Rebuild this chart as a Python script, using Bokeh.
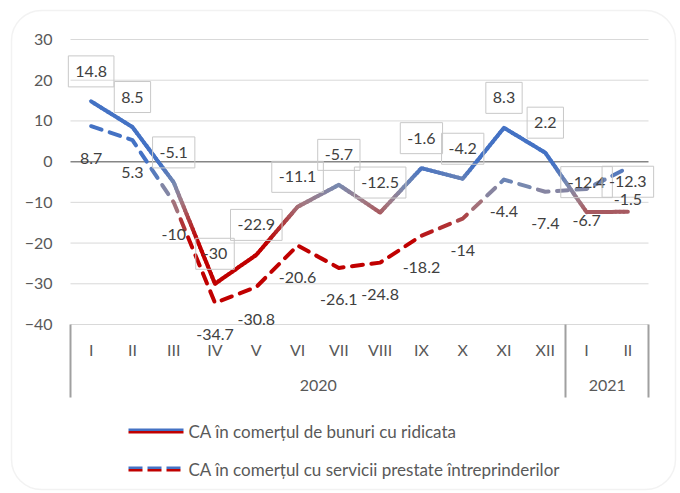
import numpy as np
from bokeh.plotting import figure
from bokeh.models import (Range1d, FixedTicker, Label, ColumnDataSource, BoxAnnotation, LinearAxis)
from bokeh.core.properties import value
from bokeh.embed import file_html
from bokeh.resources import INLINE

# ---------------- data ----------------
months = ["I", "II", "III", "IV", "V", "VI", "VII", "VIII", "IX", "X", "XI", "XII", "I", "II"]
years = ["2020", "2021"]
year_counts = [12, 2]
goods = [14.8, 8.5, -5.1, -30, -22.9, -11.1, -5.7, -12.5, -1.6, -4.2, 8.3, 2.2, -12.4, -12.3]
services = [8.7, 5.3, -10, -34.7, -30.8, -20.6, -26.1, -24.8, -18.2, -14, -4.4, -7.4, -6.7, -1.5]
series_names = ["CA în comerțul de bunuri cu ridicata",
                "CA în comerțul cu servicii prestate întreprinderilor"]
y_ticks = [-40, -30, -20, -10, 0, 10, 20, 30]

# ---------------- layout (pixels) ----------------
FONT = "Lato"
W, H = 680, 493
PL, PR, PT, PB = 70, 648, 39, 324          # plot area in canvas pixels
x_lo, x_hi = 0.5, len(months) + 0.5
y_lo, y_hi = y_ticks[0], y_ticks[-1]
kx = (x_hi - x_lo) / (PR - PL)             # data units per pixel
ky = (y_hi - y_lo) / (PB - PT)
pxx, pxy = 1 / kx, 1 / ky


def dx(px):   # canvas px -> data x
    return x_lo + (px - PL) * kx


def dy(py):   # canvas px -> data y
    return y_hi - (py - PT) * ky


BLUE = "#4472C4"
RED = "#C00000"
grad_y = [-20, -14, -10, -6, -1]
grad_c = [(192, 0, 0), (172, 68, 72), (162, 122, 132), (122, 138, 175), (68, 114, 196)]


def grad(v):
    r = np.interp(v, grad_y, [c[0] for c in grad_c])
    g = np.interp(v, grad_y, [c[1] for c in grad_c])
    b = np.interp(v, grad_y, [c[2] for c in grad_c])
    return "#%02x%02x%02x" % (int(r), int(g), int(b))


def pieces(xs, ys, dash, gap):
    xs = np.asarray(xs, float)
    ys = np.asarray(ys, float)
    px = (xs - x_lo) * pxx
    py = (ys - y_lo) * pxy
    cum = np.concatenate([[0.0], np.cumsum(np.hypot(np.diff(px), np.diff(py)))])
    total = cum[-1]
    out_x, out_y, cols = [], [], []
    s = 0.0
    while s < total:
        e = min(s + dash, total)
        ts = [s] + [c for c in cum if s < c < e] + [e]
        qx = np.interp(ts, cum, xs)
        qy = np.interp(ts, cum, ys)
        out_x.append(list(qx))
        out_y.append(list(qy))
        cols.append(grad(float(np.mean(qy))))
        s += dash + gap
    return out_x, out_y, cols


xpos = [i + 1 for i in range(len(months))]

p = figure(width=W, height=H, output_backend="svg", toolbar_location=None, title=None,
           x_range=Range1d(dx(0), dx(W)), y_range=Range1d(dy(H), dy(0)),
           min_border_left=0, min_border_right=0, min_border_top=0, min_border_bottom=0,
           background_fill_color="white", border_fill_color="white")
p.outline_line_color = None
p.xgrid.visible = False
p.ygrid.visible = False

# gridlines (only across the category span)
grid_c = ["#868686" if t == 0 else "#d9d9d9" for t in y_ticks]
grid_w = [1.5 if t == 0 else 1 for t in y_ticks]
p.segment(x0=x_lo, x1=x_hi, y0=y_ticks, y1=y_ticks, line_color=grid_c, line_width=grid_w)

# y axis
p.yaxis.fixed_location = x_lo
p.yaxis.ticker = FixedTicker(ticks=y_ticks)
p.yaxis.axis_line_color = None
p.yaxis.major_tick_line_color = None
p.yaxis.minor_tick_line_color = None
p.yaxis.major_label_standoff = 12
p.yaxis.major_label_text_font = FONT
p.yaxis.major_label_text_font_size = "16px"
p.yaxis.major_label_text_color = "#595959"

# x axis: months
ax = p.xaxis[0]
ax.fixed_location = y_lo
ax.ticker = FixedTicker(ticks=xpos)
ax.major_label_overrides = {x: m for x, m in zip(xpos, months)}
ax.axis_line_color = None
ax.major_tick_line_color = None
ax.minor_tick_line_color = None
ax.major_label_standoff = 9
ax.major_label_text_font = FONT
ax.major_label_text_font_size = "16px"
ax.major_label_text_color = "#595959"

# x axis: years
bounds = [x_lo]
for c in year_counts:
    bounds.append(bounds[-1] + c)
mids = [(a + b) / 2 for a, b in zip(bounds[:-1], bounds[1:])]
ay = LinearAxis(fixed_location=y_lo, ticker=FixedTicker(ticks=mids),
                major_label_overrides={m: y for m, y in zip(mids, years)},
                axis_line_color=None, major_tick_line_color=None, minor_tick_line_color=None,
                major_label_standoff=49, major_label_text_font=FONT,
                major_label_text_font_size="16px", major_label_text_color="#595959")
p.add_layout(ay, "below")

# x axis: group separators
asep = LinearAxis(fixed_location=y_lo, ticker=FixedTicker(ticks=bounds),
                  major_label_overrides={b: "" for b in bounds},
                  axis_line_color=None, major_tick_in=0, major_tick_out=73,
                  major_tick_line_color="#a0a0a0", major_tick_line_width=2,
                  minor_tick_line_color=None)
p.add_layout(asep, "below")

# lines
gx, gy, gc = pieces(xpos, goods, 4, 0)
p.multi_line(gx, gy, line_color=gc, line_width=4, line_cap="round", line_join="round")
sx_, sy_, sc = pieces(xpos, services, 11, 8.5)
p.multi_line(sx_, sy_, line_color=sc, line_width=4, line_cap="round", line_join="round")

# data labels
src_g = ColumnDataSource(dict(x=xpos, y=goods, t=[f"{v:g}" for v in goods]))
src_s = ColumnDataSource(dict(x=xpos, y=services, t=[f"{v:g}" for v in services]))
p.text(x="x", y="y", text="t", source=src_g, y_offset=-30,
       text_align="center", text_baseline="middle",
       text_font=value(FONT), text_font_size="16px", text_color="#404040",
       border_line_color="#c8c8c8", border_line_width=1, padding=(7, 10))
p.text(x="x", y="y", text="t", source=src_s, y_offset=32,
       text_align="center", text_baseline="middle",
       text_font=value(FONT), text_font_size="16px", text_color="#404040")


# legend
def box(l, r, t, b, color, **kw):
    p.add_layout(BoxAnnotation(left=dx(l), right=dx(r), top=dy(t), bottom=dy(b),
                               fill_color=color, fill_alpha=1, line_color=None, **kw))


box(128, 183, 428, 430.5, BLUE)
box(128, 183, 430.5, 433, RED)
for d0 in [128, 147, 166]:
    box(d0, d0 + 14, 466, 468.5, BLUE)
    box(d0, d0 + 14, 468.5, 471, RED)
for name, yy in zip(series_names, [431, 469]):
    p.add_layout(Label(x=dx(188), y=dy(yy), text=name,
                       text_align="left", text_baseline="middle", text_font=FONT,
                       text_font_size="17px", text_color="#595959"))

# outer rounded frame
p.add_layout(BoxAnnotation(left=dx(11), right=dx(675), top=dy(10), bottom=dy(489),
                           fill_color=None, fill_alpha=0, line_color="#d4d4d4", line_width=1.5,
                           border_radius=30))

open("out.html", "w").write(file_html(p, INLINE))
